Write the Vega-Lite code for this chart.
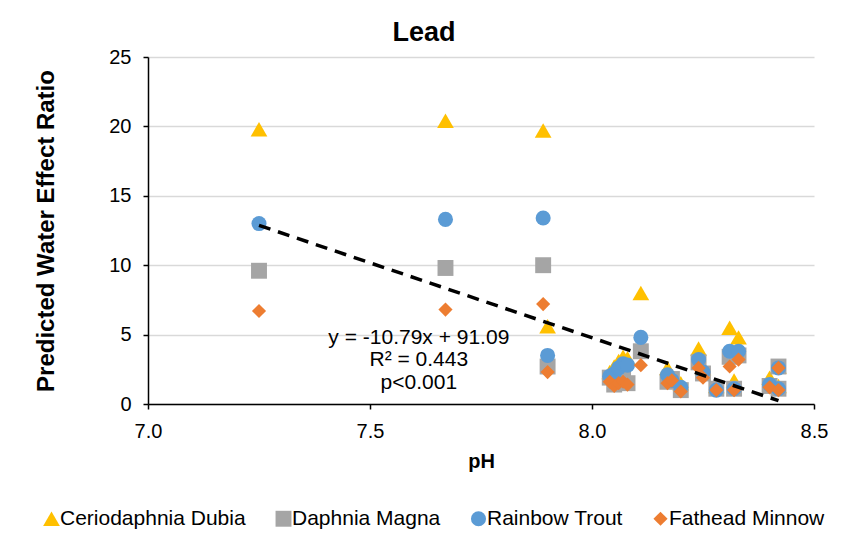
{
  "$schema": "https://vega.github.io/schema/vega-lite/v6.json",
  "autosize": {"type": "none"},
  "padding": {"left": 148, "top": 57, "right": 29, "bottom": 133},
  "width": 666,
  "height": 347,
  "background": "white",
  "config": {
    "font": "Liberation Sans",
    "view": {"stroke": null}
  },
  "title": {"text": "Lead", "fontSize": 27, "fontWeight": "bold", "color": "black", "anchor": "middle", "dx": -57, "offset": 0, "font": "Liberation Sans"},
  "datasets": {
    "points": [
      {"pH": 7.25, "species": "Ceriodaphnia Dubia", "ratio": 19.8},
      {"pH": 7.67, "species": "Ceriodaphnia Dubia", "ratio": 20.4},
      {"pH": 7.89, "species": "Ceriodaphnia Dubia", "ratio": 19.7},
      {"pH": 7.9, "species": "Ceriodaphnia Dubia", "ratio": 5.6},
      {"pH": 8.04, "species": "Ceriodaphnia Dubia", "ratio": 2.3},
      {"pH": 8.05, "species": "Ceriodaphnia Dubia", "ratio": 2.7},
      {"pH": 8.06, "species": "Ceriodaphnia Dubia", "ratio": 3.1},
      {"pH": 8.07, "species": "Ceriodaphnia Dubia", "ratio": 3.4},
      {"pH": 8.08, "species": "Ceriodaphnia Dubia", "ratio": 3.3},
      {"pH": 8.11, "species": "Ceriodaphnia Dubia", "ratio": 8.0},
      {"pH": 8.17, "species": "Ceriodaphnia Dubia", "ratio": 2.6},
      {"pH": 8.18, "species": "Ceriodaphnia Dubia", "ratio": 2.0},
      {"pH": 8.2, "species": "Ceriodaphnia Dubia", "ratio": 1.5},
      {"pH": 8.24, "species": "Ceriodaphnia Dubia", "ratio": 4.0},
      {"pH": 8.25, "species": "Ceriodaphnia Dubia", "ratio": 2.6},
      {"pH": 8.28, "species": "Ceriodaphnia Dubia", "ratio": 1.3},
      {"pH": 8.31, "species": "Ceriodaphnia Dubia", "ratio": 5.5},
      {"pH": 8.33, "species": "Ceriodaphnia Dubia", "ratio": 4.8},
      {"pH": 8.32, "species": "Ceriodaphnia Dubia", "ratio": 1.7},
      {"pH": 8.4, "species": "Ceriodaphnia Dubia", "ratio": 1.9},
      {"pH": 8.42, "species": "Ceriodaphnia Dubia", "ratio": 2.7},
      {"pH": 8.42, "species": "Ceriodaphnia Dubia", "ratio": 1.3},
      {"pH": 7.25, "species": "Daphnia Magna", "ratio": 9.6},
      {"pH": 7.67, "species": "Daphnia Magna", "ratio": 9.8},
      {"pH": 7.89, "species": "Daphnia Magna", "ratio": 10.0},
      {"pH": 7.9, "species": "Daphnia Magna", "ratio": 2.7},
      {"pH": 8.04, "species": "Daphnia Magna", "ratio": 1.9},
      {"pH": 8.05, "species": "Daphnia Magna", "ratio": 1.4},
      {"pH": 8.06, "species": "Daphnia Magna", "ratio": 1.6},
      {"pH": 8.07, "species": "Daphnia Magna", "ratio": 1.8},
      {"pH": 8.08, "species": "Daphnia Magna", "ratio": 1.5},
      {"pH": 8.11, "species": "Daphnia Magna", "ratio": 3.8},
      {"pH": 8.17, "species": "Daphnia Magna", "ratio": 1.6},
      {"pH": 8.18, "species": "Daphnia Magna", "ratio": 1.8},
      {"pH": 8.2, "species": "Daphnia Magna", "ratio": 1.0},
      {"pH": 8.24, "species": "Daphnia Magna", "ratio": 3.0},
      {"pH": 8.25, "species": "Daphnia Magna", "ratio": 2.2},
      {"pH": 8.28, "species": "Daphnia Magna", "ratio": 1.1},
      {"pH": 8.31, "species": "Daphnia Magna", "ratio": 3.4},
      {"pH": 8.33, "species": "Daphnia Magna", "ratio": 3.5},
      {"pH": 8.32, "species": "Daphnia Magna", "ratio": 1.1},
      {"pH": 8.4, "species": "Daphnia Magna", "ratio": 1.3},
      {"pH": 8.42, "species": "Daphnia Magna", "ratio": 2.7},
      {"pH": 8.42, "species": "Daphnia Magna", "ratio": 1.1},
      {"pH": 7.25, "species": "Rainbow Trout", "ratio": 13.0},
      {"pH": 7.67, "species": "Rainbow Trout", "ratio": 13.3},
      {"pH": 7.89, "species": "Rainbow Trout", "ratio": 13.4},
      {"pH": 7.9, "species": "Rainbow Trout", "ratio": 3.5},
      {"pH": 8.04, "species": "Rainbow Trout", "ratio": 2.0},
      {"pH": 8.05, "species": "Rainbow Trout", "ratio": 2.2},
      {"pH": 8.06, "species": "Rainbow Trout", "ratio": 2.6},
      {"pH": 8.07, "species": "Rainbow Trout", "ratio": 2.9},
      {"pH": 8.08, "species": "Rainbow Trout", "ratio": 2.8},
      {"pH": 8.11, "species": "Rainbow Trout", "ratio": 4.8},
      {"pH": 8.17, "species": "Rainbow Trout", "ratio": 2.1},
      {"pH": 8.18, "species": "Rainbow Trout", "ratio": 1.7},
      {"pH": 8.2, "species": "Rainbow Trout", "ratio": 1.2},
      {"pH": 8.24, "species": "Rainbow Trout", "ratio": 3.2},
      {"pH": 8.25, "species": "Rainbow Trout", "ratio": 2.3},
      {"pH": 8.28, "species": "Rainbow Trout", "ratio": 1.0},
      {"pH": 8.31, "species": "Rainbow Trout", "ratio": 3.8},
      {"pH": 8.33, "species": "Rainbow Trout", "ratio": 3.8},
      {"pH": 8.32, "species": "Rainbow Trout", "ratio": 1.1},
      {"pH": 8.4, "species": "Rainbow Trout", "ratio": 1.4},
      {"pH": 8.42, "species": "Rainbow Trout", "ratio": 2.6},
      {"pH": 8.42, "species": "Rainbow Trout", "ratio": 1.1},
      {"pH": 7.25, "species": "Fathead Minnow", "ratio": 6.7},
      {"pH": 7.67, "species": "Fathead Minnow", "ratio": 6.8},
      {"pH": 7.89, "species": "Fathead Minnow", "ratio": 7.2},
      {"pH": 7.9, "species": "Fathead Minnow", "ratio": 2.3},
      {"pH": 8.04, "species": "Fathead Minnow", "ratio": 1.6},
      {"pH": 8.05, "species": "Fathead Minnow", "ratio": 1.3},
      {"pH": 8.06, "species": "Fathead Minnow", "ratio": 1.5},
      {"pH": 8.07, "species": "Fathead Minnow", "ratio": 1.6},
      {"pH": 8.08, "species": "Fathead Minnow", "ratio": 1.4},
      {"pH": 8.11, "species": "Fathead Minnow", "ratio": 2.8},
      {"pH": 8.17, "species": "Fathead Minnow", "ratio": 1.5},
      {"pH": 8.18, "species": "Fathead Minnow", "ratio": 1.7},
      {"pH": 8.2, "species": "Fathead Minnow", "ratio": 0.9},
      {"pH": 8.24, "species": "Fathead Minnow", "ratio": 2.6},
      {"pH": 8.25, "species": "Fathead Minnow", "ratio": 1.9},
      {"pH": 8.28, "species": "Fathead Minnow", "ratio": 1.0},
      {"pH": 8.31, "species": "Fathead Minnow", "ratio": 2.7},
      {"pH": 8.33, "species": "Fathead Minnow", "ratio": 3.2},
      {"pH": 8.32, "species": "Fathead Minnow", "ratio": 1.0},
      {"pH": 8.4, "species": "Fathead Minnow", "ratio": 1.2},
      {"pH": 8.42, "species": "Fathead Minnow", "ratio": 2.6},
      {"pH": 8.42, "species": "Fathead Minnow", "ratio": 1.0}
    ],
    "trend": [
      {"pH": 7.25, "ratio": 12.87},
      {"pH": 8.42, "ratio": 0.24}
    ],
    "labels": [
      {"pH": 7.61, "ratio": 4.75, "text": "y = -10.79x + 91.09"},
      {"pH": 7.61, "ratio": 3.15, "text": "R² = 0.443"},
      {"pH": 7.61, "ratio": 1.5, "text": "p<0.001"}
    ]
  },
  "layer": [
    {
      "data": {"name": "points"},
      "mark": {"type": "point", "filled": true, "opacity": 1},
      "encoding": {
        "x": {
          "field": "pH", "type": "quantitative",
          "scale": {"domain": [7, 8.5], "nice": false, "zero": false},
          "axis": {
            "title": "pH", "values": [7, 7.5, 8, 8.5], "format": ".1f",
            "grid": false, "domainColor": "black", "domainWidth": 1.5,
            "tickColor": "black", "tickSize": 5, "tickWidth": 1.5,
            "labelFontSize": 20, "labelColor": "black", "labelPadding": 12, "labelFlush": false,
            "titleFontSize": 20, "titleFontWeight": "bold", "titleColor": "black", "titlePadding": 10
          }
        },
        "y": {
          "field": "ratio", "type": "quantitative",
          "scale": {"domain": [0, 25], "nice": false},
          "axis": {
            "title": "Predicted Water Effect Ratio", "values": [0, 5, 10, 15, 20, 25],
            "grid": true, "gridColor": "#D9D9D9", "gridWidth": 1.5,
            "domainColor": "black", "domainWidth": 1.5,
            "tickColor": "black", "tickSize": 5, "tickWidth": 1.5,
            "labelFontSize": 20, "labelColor": "black", "labelPadding": 12, "labelFlush": false,
            "titleFontSize": 24, "titleFontWeight": "bold", "titleColor": "black", "titlePadding": 50
          }
        },
        "color": {
          "field": "species", "type": "nominal",
          "scale": {
            "domain": ["Ceriodaphnia Dubia", "Daphnia Magna", "Rainbow Trout", "Fathead Minnow"],
            "range": ["#FFC000", "#A5A5A5", "#5B9BD5", "#ED7D31"]
          },
          "legend": {
            "title": null, "orient": "none", "direction": "horizontal",
            "legendX": -107, "legendY": 451,
            "labelFontSize": 21, "labelColor": "black", "labelLimit": 400, "symbolSize": 150,
            "symbolOpacity": 1, "labelOffset": -2, "columnPadding": 27, "symbolStrokeWidth": 0
          }
        },
        "shape": {
          "field": "species", "type": "nominal",
          "scale": {
            "domain": ["Ceriodaphnia Dubia", "Daphnia Magna", "Rainbow Trout", "Fathead Minnow"],
            "range": ["triangle-up", "square", "circle", "diamond"]
          },
          "legend": null
        },
        "size": {
          "field": "species", "type": "nominal",
          "scale": {
            "domain": ["Ceriodaphnia Dubia", "Daphnia Magna", "Rainbow Trout", "Fathead Minnow"],
            "range": [280, 200, 220, 250]
          },
          "legend": null
        }
      }
    },
    {
      "data": {"name": "trend"},
      "mark": {"type": "line", "color": "black", "strokeWidth": 3.5, "strokeDash": [12, 8]},
      "encoding": {
        "x": {"field": "pH", "type": "quantitative"},
        "y": {"field": "ratio", "type": "quantitative"}
      }
    },
    {
      "data": {"name": "labels"},
      "mark": {"type": "text", "fontSize": 21, "color": "black", "align": "center", "baseline": "middle"},
      "encoding": {
        "x": {"field": "pH", "type": "quantitative"},
        "y": {"field": "ratio", "type": "quantitative"},
        "text": {"field": "text"}
      }
    }
  ]
}
